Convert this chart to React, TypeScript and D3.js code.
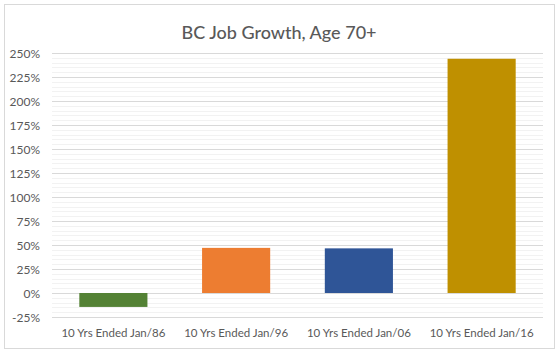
import React from "react";
import * as d3 from "d3";

const categories = [
  "10 Yrs Ended Jan/86",
  "10 Yrs Ended Jan/96",
  "10 Yrs Ended Jan/06",
  "10 Yrs Ended Jan/16",
];
const values = [-14.5, 47, 46.5, 244];
const colors = ["#548235", "#ED7D31", "#2F5597", "#BF9000"];
const majorTicks = [-25, 0, 25, 50, 75, 100, 125, 150, 175, 200, 225, 250];
const title = "BC Job Growth, Age 70+";

const W = 560;
const H = 352;
const left = 52;
const right = 543;
const top = 53;
const bottom = 317;
const FONT = "Lato, 'Open Sans', sans-serif";

export default function App() {
  const y = d3.scaleLinear().domain([-25, 250]).range([bottom, top]);
  const x = d3.scaleBand().domain(categories).range([left, right]).paddingInner(0.445).paddingOuter(0.2225);
  const minorTicks = d3.range(-25, 251, 5).filter((v) => v % 25 !== 0);

  return (
    <svg width={W} height={H} style={{ position: "absolute", left: 0, top: 0 }}>
      <rect x={0} y={0} width={W} height={H} fill="#fff" />
      <rect x={4.5} y={4.5} width={550} height={344} fill="#fff" stroke="#d9d9d9" strokeWidth={1} />
      <text x={279} y={39} textAnchor="middle" fontFamily={FONT} fontSize={18} fontWeight={500} fill="#595959">
        {title}
      </text>
      {minorTicks.map((v) => (
        <line key={"m" + v} x1={left} x2={right} y1={Math.round(y(v)) + 0.5} y2={Math.round(y(v)) + 0.5} stroke="#f2f2f2" strokeWidth={1} />
      ))}
      {majorTicks.map((v) => (
        <line key={"M" + v} x1={left} x2={right} y1={Math.round(y(v)) + 0.5} y2={Math.round(y(v)) + 0.5} stroke="#d9d9d9" strokeWidth={1} />
      ))}
      {majorTicks.map((v) => (
        <text key={"t" + v} x={40} y={y(v) + 4.5} textAnchor="end" fontFamily={FONT} fontSize={12} fill="#595959">
          {v + "%"}
        </text>
      ))}
      {categories.map((c, i) => {
        const v = values[i];
        const y0 = y(0);
        const y1 = y(v);
        return (
          <rect
            key={c}
            x={x(c)}
            y={Math.min(y0, y1)}
            width={x.bandwidth()}
            height={Math.abs(y1 - y0)}
            fill={colors[i]}
          />
        );
      })}
      {categories.map((c) => (
        <text key={"x" + c} x={(x(c) as number) + x.bandwidth() / 2} y={337} textAnchor="middle" fontFamily={FONT} fontSize={11.5} fill="#595959">
          {c}
        </text>
      ))}
    </svg>
  );
}
